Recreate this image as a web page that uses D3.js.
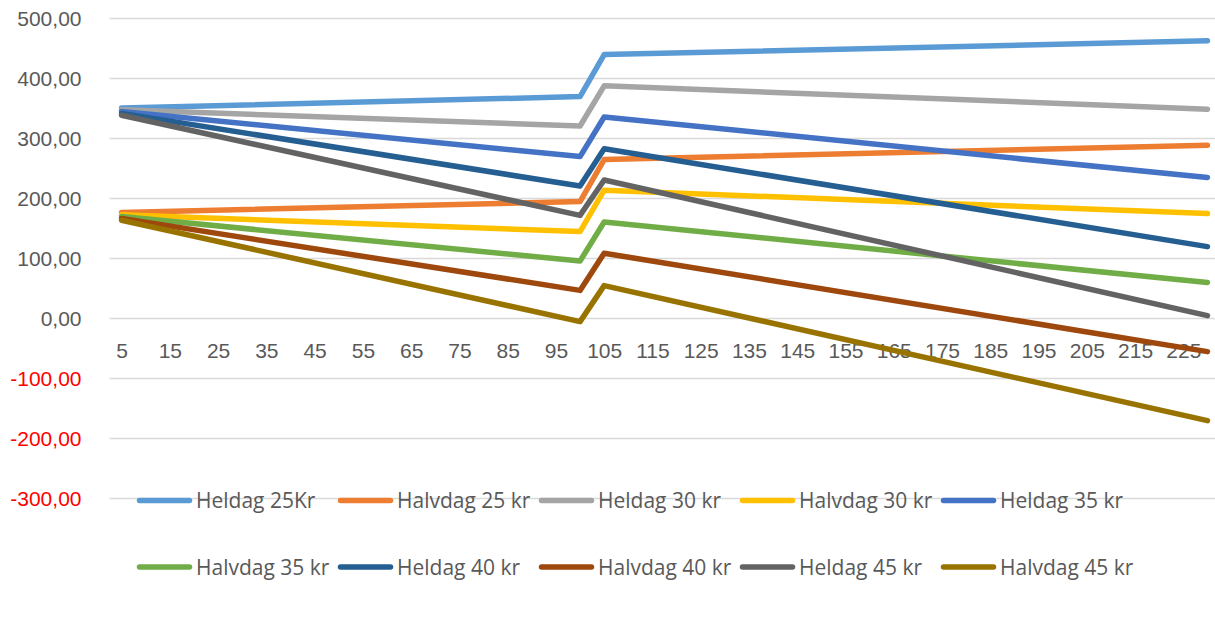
<!DOCTYPE html>
<html>
<head>
<meta charset="UTF-8">
<script src="https://cdn.jsdelivr.net/npm/d3@7/dist/d3.min.js"></script>
<style>
    body { margin: 0; background: #fff; }
    svg { display: block; font-family: "Open Sans", sans-serif; }
    .axis text { font-size: 21px; fill: #595959; }
    .legend text { font-size: 21px; fill: #595959; }
</style>
</head>
<body>
<svg width="1215" height="629"></svg>
<script>
// x categories (kr per unit) and the labels actually shown
var categories = [5, 10, 15, 20, 25, 30, 35, 40, 45, 50, 55, 60, 65, 70, 75, 80, 85, 90, 95, 100,
    105, 110, 115, 120, 125, 130, 135, 140, 145, 150, 155, 160, 165, 170, 175, 180, 185, 190, 195, 200,
    205, 210, 215, 220, 225, 230];
var xTickLabels = [5, 15, 25, 35, 45, 55, 65, 75, 85, 95, 105, 115, 125, 135, 145, 155, 165, 175, 185, 195, 205, 215, 225];
var yTicks = [500, 400, 300, 200, 100, 0, -100, -200, -300];

// the lines are straight between these categories, so only these points are read
var points = [5, 100, 105, 230];

var seriesNames = ["Heldag 25Kr", "Halvdag 25 kr", "Heldag 30 kr", "Halvdag 30 kr", "Heldag 35 kr",
    "Halvdag 35 kr", "Heldag 40 kr", "Halvdag 40 kr", "Heldag 45 kr", "Halvdag 45 kr"];
var heldag25 = [350, 369, 439, 462];
var halvdag25 = [176, 194, 264, 288];
var heldag30 = [347, 320, 387, 348];
var halvdag30 = [172, 144, 213, 174];
var heldag35 = [344, 269, 335, 234];
var halvdag35 = [169, 95, 160, 59];
var heldag40 = [341, 220, 282, 119];
var halvdag40 = [166, 46, 108, -56];
var heldag45 = [338, 171, 230, 4];
var halvdag45 = [163, -6, 54, -171];

var colors = ["#5B9BD5", "#ED7D31", "#A5A5A5", "#FFC000", "#4472C4",
    "#70AD47", "#255E91", "#9E480E", "#636363", "#997300"];

var seriesValues = [heldag25, halvdag25, heldag30, halvdag30, heldag35,
    halvdag35, heldag40, halvdag40, heldag45, halvdag45];
var series = seriesNames.map(function (name, i) {
    return {
        name: name,
        color: colors[i],
        values: points.map(function (c, j) { return { cat: c, v: seriesValues[i][j] }; })
    };
});

var svg = d3.select("svg");
var left = 109.5, right = 1219.5;

var x = d3.scalePoint()
    .domain(categories)
    .range([left, right])
    .padding(0.5);

var y = d3.scaleLinear()
    .domain([-300, 500])
    .range([498, 18]);

var locale = d3.formatLocale({ decimal: ",", thousands: ".", grouping: [3], currency: ["", " kr"], minus: "-" });
var fmt = locale.format(".2f");

// y axis with gridlines
var yAxis = svg.append("g")
    .attr("class", "axis")
    .attr("transform", "translate(" + left + ",0)")
    .call(d3.axisLeft(y).tickValues(yTicks).tickFormat(fmt)
        .tickSizeInner(-(1215 - left)).tickSizeOuter(0).tickPadding(28));
yAxis.select(".domain").remove();
yAxis.selectAll("line").attr("stroke", "#D9D9D9").attr("stroke-width", 1.3);
yAxis.selectAll("text")
    .attr("dy", "0.36em")
    .style("fill", function (d) { return d < 0 ? "#FF0000" : "#595959"; });

// x labels sit under the zero line
var xAxis = svg.append("g")
    .attr("class", "axis")
    .attr("transform", "translate(0," + y(0) + ")")
    .call(d3.axisBottom(x).tickValues(xTickLabels).tickSize(0).tickPadding(25));
xAxis.select(".domain").remove();

var line = d3.line()
    .x(function (d) { return x(d.cat); })
    .y(function (d) { return y(d.v); });

svg.append("g")
    .selectAll("path")
    .data(series)
    .enter()
    .append("path")
    .attr("d", function (d) { return line(d.values); })
    .attr("fill", "none")
    .attr("stroke", function (d) { return d.color; })
    .attr("stroke-width", 5.5)
    .attr("stroke-linejoin", "round")
    .attr("stroke-linecap", "round");

// legend, two rows of five
var legend = svg.append("g")
    .attr("class", "legend")
    .selectAll("g")
    .data(series)
    .enter()
    .append("g")
    .attr("transform", function (d, i) {
        return "translate(" + (137 + (i % 5) * 201) + "," + (i < 5 ? 500.5 : 567) + ")";
    });

legend.append("line")
    .attr("x1", 2.5)
    .attr("x2", 52.5)
    .attr("stroke", function (d) { return d.color; })
    .attr("stroke-width", 5.5)
    .attr("stroke-linecap", "round");

legend.append("text")
    .attr("x", 59)
    .attr("dy", "0.36em")
    .text(function (d) { return d.name; });
</script>
</body>
</html>
